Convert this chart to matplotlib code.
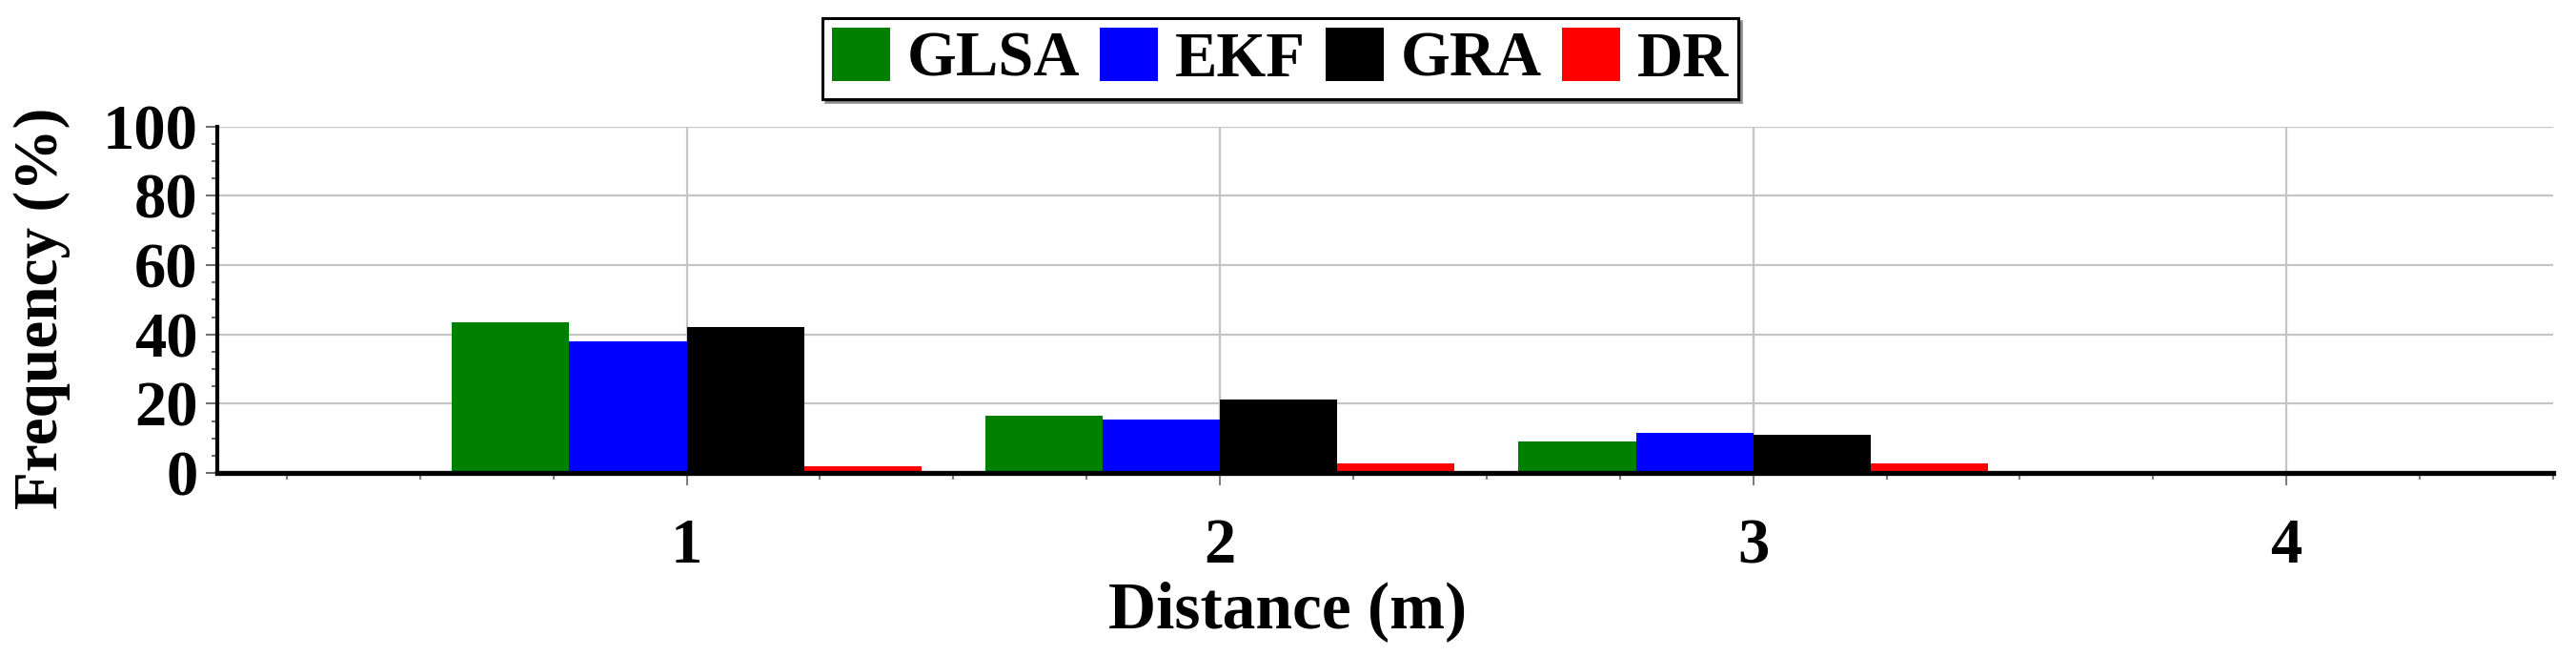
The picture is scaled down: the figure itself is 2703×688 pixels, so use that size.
import numpy as np
import matplotlib
matplotlib.use("Agg")
import matplotlib.pyplot as plt
from matplotlib.ticker import MultipleLocator

# distance bins (m) and frequency (%) per method
distance = np.array([1, 2, 3, 4])
glsa = [43.6, 16.4, 9.1, 0.0]
ekf  = [38.0, 15.5, 11.6, 0.0]
gra  = [42.0, 21.3, 10.9, 0.0]
dr   = [1.9, 2.8, 2.8, 0.0]

series = [("GLSA", glsa, "#008000"),
          ("EKF",  ekf,  "#0000ff"),
          ("GRA",  gra,  "#000000"),
          ("DR",   dr,   "#ff0000")]

plt.rcParams["font.family"] = ["Liberation Serif", "DejaVu Serif"]
plt.rcParams["font.weight"] = "bold"

fig = plt.figure(figsize=(27.03, 6.88), dpi=100)
ax = fig.add_axes([0.0844, 0.279, 0.9067, 0.528])

width = 0.22
offsets = [-1.5 * width, -0.5 * width, 0.5 * width, 1.5 * width]
for (name, vals, col), off in zip(series, offsets):
    ax.bar(distance + off, vals, width=width, color=col, label=name,
           linewidth=0)

ax.set_xlim(0.12, 4.5)
ax.set_ylim(0, 100)
ax.set_xticks(distance)
ax.set_yticks([0, 20, 40, 60, 80, 100])
ax.xaxis.set_minor_locator(MultipleLocator(0.25))
ax.yaxis.set_minor_locator(MultipleLocator(5))

ax.set_axisbelow(True)
ax.grid(True, which="major", color="#c4c4c4", linewidth=1.6)

for s in ["top", "right"]:
    ax.spines[s].set_visible(False)
ax.spines["bottom"].set_linewidth(3.8)
ax.spines["left"].set_linewidth(3.0)

ax.tick_params(axis="y", which="major", length=9, width=1.5, color="#707070",
               labelsize=48, pad=6)
ax.tick_params(axis="y", which="minor", length=4, width=1.5, color="#707070")
ax.tick_params(axis="x", which="major", length=9, width=1.5, color="#808080",
               labelsize=48, pad=25)
ax.tick_params(axis="x", which="minor", length=5, width=1.5, color="#808080")

ax.set_ylabel("Frequency (%)", fontsize=47, fontweight="bold")
ax.yaxis.set_label_coords(-0.0628, 0.475)
fig.text(0.5, 0.068, "Distance (m)", fontsize=50, fontweight="bold",
         ha="center", va="center")

leg = fig.legend(loc="upper center", bbox_to_anchor=(0.497, 0.9724), ncol=4,
                 fontsize=48, handlelength=0.915, handleheight=0.915,
                 handletextpad=0.27, columnspacing=0.31, borderpad=0.15,
                 borderaxespad=0, fancybox=False, shadow=True, framealpha=1,
                 edgecolor="black")
leg.get_frame().set_linewidth(2.2)

fig.savefig("out.png", dpi=100)
